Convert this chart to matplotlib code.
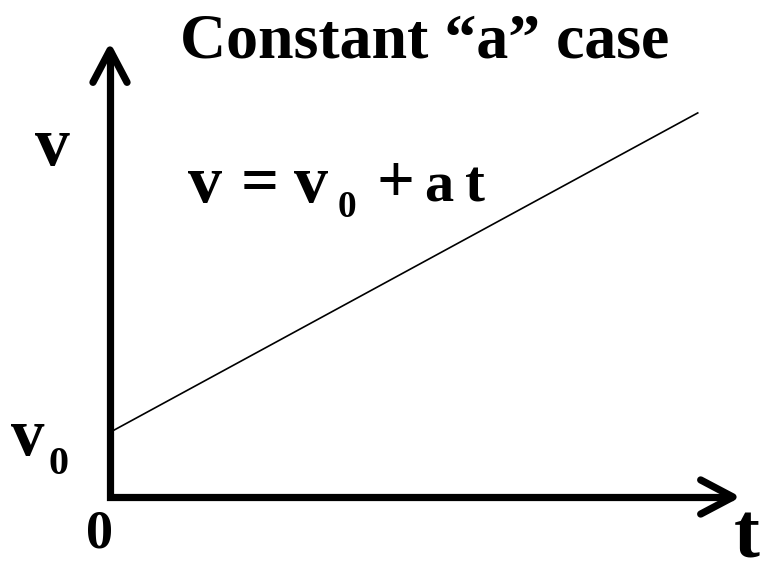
import matplotlib
matplotlib.use("Agg")
import matplotlib.pyplot as plt

plt.rcParams["font.family"] = ["Liberation Serif", "DejaVu Serif"]
plt.rcParams["font.weight"] = "bold"

W, H = 763, 565

# data: v = v0 + a t
t_vals = [0, 10]
v0 = 1.1
a = 0.543
v_vals = [v0 + a * t for t in t_vals]

title = "Constant \u201ca\u201d case"

T_MAX = 10.6
V_MAX = 7.6

fig = plt.figure(figsize=(W / 100, H / 100), dpi=100)
ax = fig.add_axes([110 / W, 68 / H, 623 / W, 447 / H])
ax.set_xlim(0, T_MAX)
ax.set_ylim(0, V_MAX)
ax.axis("off")

# the line
ax.plot(t_vals, v_vals, color="black", lw=1.2, clip_on=False)

# axes with open arrow heads
kw = dict(color="black", lw=5.2, clip_on=False, solid_capstyle="round",
          solid_joinstyle="round")
ax.plot([0, 0, T_MAX], [V_MAX, 0, 0], color="black", lw=5.2, clip_on=False,
        solid_capstyle="butt", solid_joinstyle="miter")
hl, hw = 0.55, 0.29
ax.plot([-hw, 0, hw], [V_MAX - hl, V_MAX, V_MAX - hl], **kw)
ax.plot([T_MAX - hl, T_MAX, T_MAX - hl], [hw, 0, -hw], **kw)


def txt(x, y, s, size, ha="left", va="baseline"):
    # place text at pixel position (from top-left)
    fig.text(x / W, 1 - y / H, s, fontsize=size, fontweight="bold",
             ha=ha, va=va)


# title
txt(425, 57, title, 46, ha="center")

# axis labels
txt(52, 165, "v", 50, ha="center")
txt(28, 455, "v", 48, ha="center")
txt(58, 474, "0", 29, ha="center")
txt(100, 547, "0", 39, ha="center")
txt(747, 557, "t", 56, ha="center")

# equation v = v0 + a t
txt(205, 202, "v", 49, ha="center")
txt(260, 202, "=", 48, ha="center")
txt(311, 202, "v", 49, ha="center")
txt(347, 217, "0", 27, ha="center")
txt(396, 202, "+", 48, ha="center")
txt(439, 202, "a", 42, ha="center")
txt(475, 202, "t", 43, ha="center")

fig.savefig("out.png", dpi=100)
